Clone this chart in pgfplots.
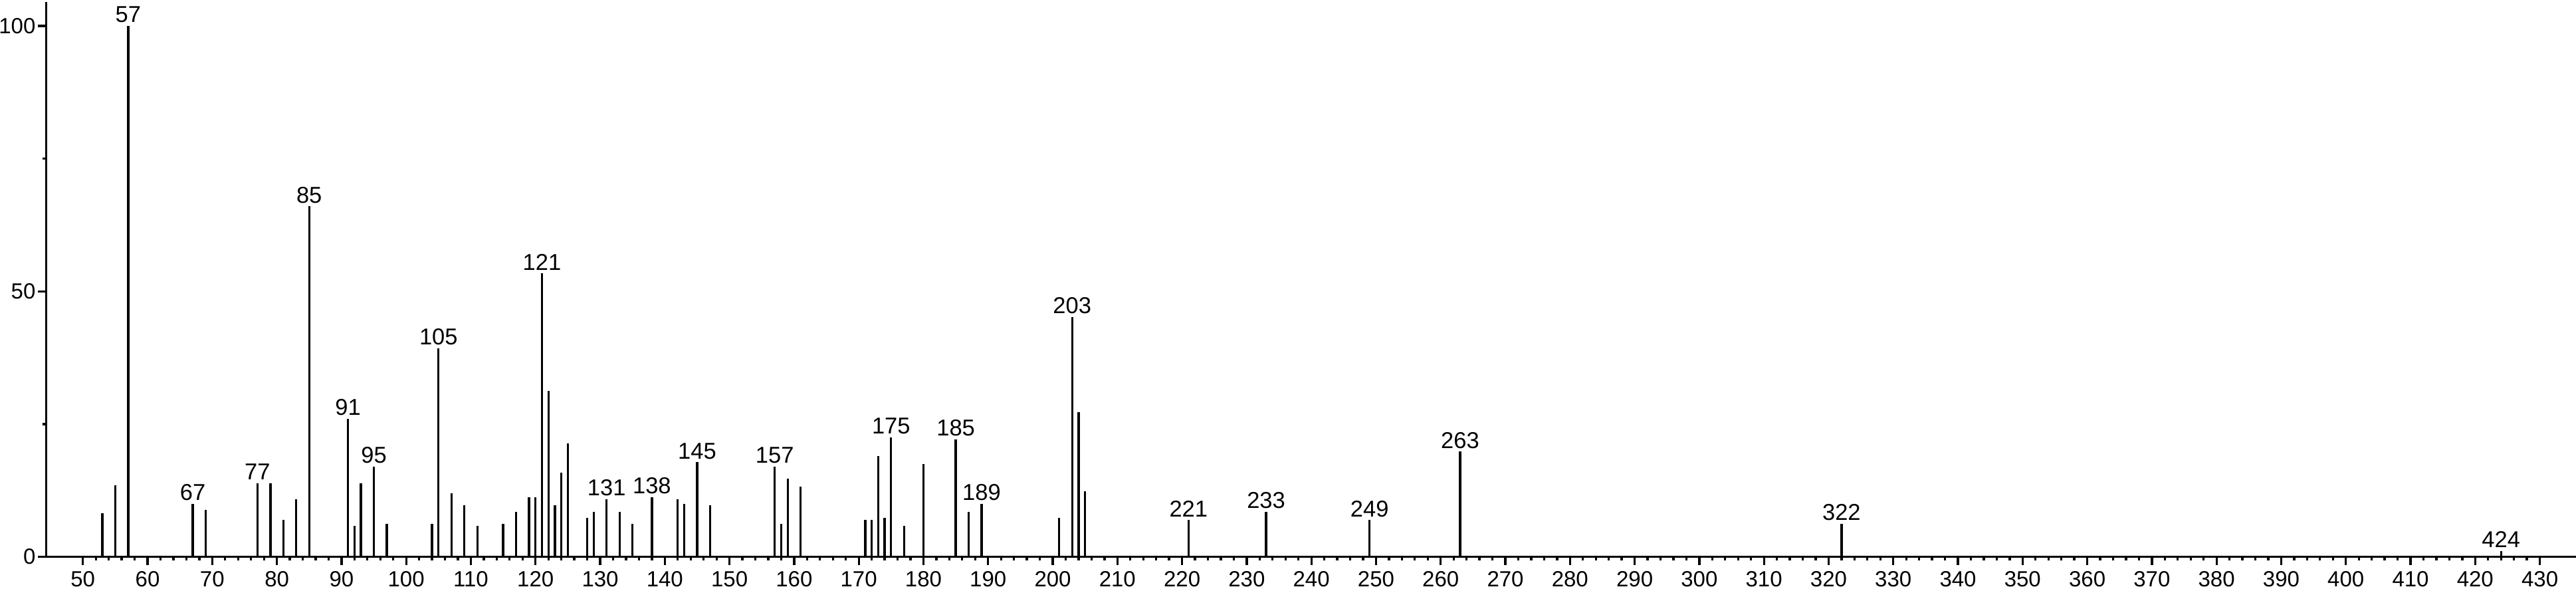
\documentclass[border=0pt]{standalone}
\usepackage{fontspec}
\setmainfont{Liberation Sans}
\usepackage{pgfplots}
\pgfplotsset{compat=1.18}
\begin{document}
\begin{tikzpicture}
\begin{axis}[
    at={(0,0)}, anchor=south west,
    scale only axis,
    width=1268.9pt, height=278.2pt,
    xmin=44.3, xmax=435.6,
    ymin=0, ymax=104.5,
    axis x line=bottom, axis y line=left,
    axis line style={-, line width=1.1pt},
    xtick={50,60,...,430}, minor x tick num=4,
    ytick={0,50,100}, minor y tick num=1,
    tick align=outside,
    major tick length=4.1pt, minor tick length=1.9pt,
    tick style={black, line width=1.1pt},
    ticklabel style={font=\fontsize{11}{13}\selectfont},
    /pgf/number format/assume math mode=true,
    xticklabel style={inner ysep=3pt},
    yticklabel style={inner xsep=1pt},
    clip=false,
]
% spectrum
\addplot[ycomb, black, line width=1.1pt] coordinates {
    (53,8.2) (55,13.5) (57,100) (67,10.0) (69,8.8) (77,13.9) (79,13.9)
    (81,6.9) (83,10.8) (85,66) (91,26.0) (92,5.8) (93,13.9) (95,17.0)
    (97,6.2) (104,6.2) (105,39.3) (107,12.0) (109,9.7) (111,5.8)
    (115,6.2) (117,8.5) (119,11.2) (120,11.2) (121,53.4) (122,31.2)
    (123,9.7) (124,15.9) (125,21.4) (128,7.3) (129,8.5) (131,10.8)
    (133,8.5) (135,6.2) (138,11.2) (142,10.8) (143,10.0) (145,17.8)
    (147,9.7) (157,17.0) (158,6.2) (159,14.7) (161,13.2) (171,6.9)
    (172,6.9) (173,19.0) (174,7.3) (175,22.5) (177,5.8) (180,17.5)
    (185,22.1) (187,8.5) (189,10.0) (201,7.3) (203,45.2) (204,27.2)
    (205,12.4) (221,6.9) (233,8.5) (249,6.9) (263,19.8) (322,6.2)
    (424,1.1)
};
% labelled peaks
\addplot[draw=none, mark=none, point meta=x, nodes near coords,
    nodes near coords style={anchor=south, inner sep=1.5pt, text=black,
        font=\fontsize{11.5}{13}\selectfont}] coordinates {
    (57,100) (67,10.0) (77,13.9) (85,66) (91,26.0) (95,17.0) (105,39.3)
    (121,53.4) (131,10.8) (138,11.2) (145,17.8) (157,17.0) (175,22.5)
    (185,22.1) (189,10.0) (203,45.2) (221,6.9) (233,8.5) (249,6.9)
    (263,19.8) (322,6.2) (424,1.1)
};
\end{axis}
\pgfresetboundingbox
\path (-23.1pt,-18.1pt) rectangle (1268.9pt,279.2pt);
\end{tikzpicture}
\end{document}
